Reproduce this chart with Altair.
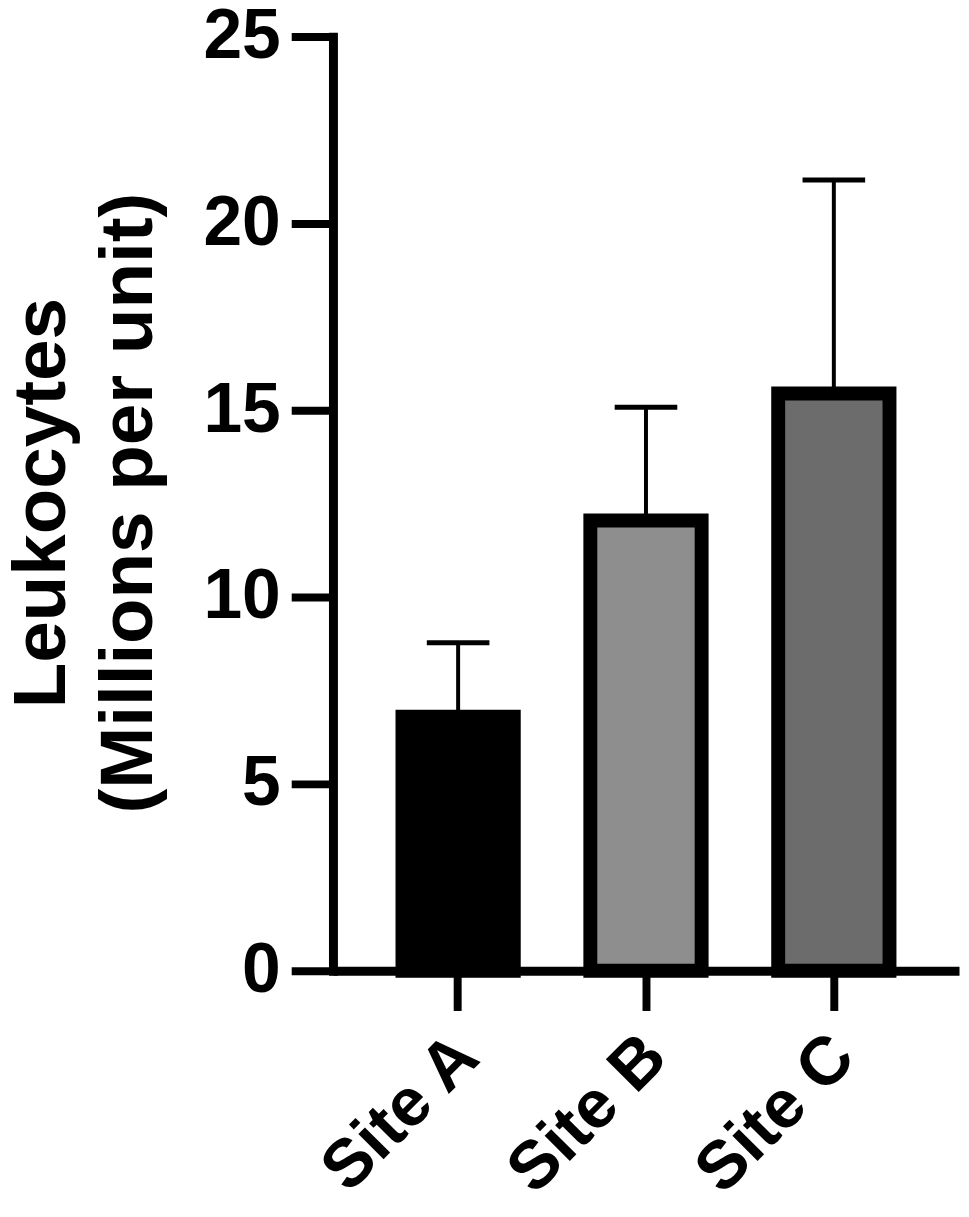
import altair as alt
import pandas as pd

sites = ["Site A", "Site B", "Site C"]
means = [6.8, 12.05, 15.45]
uppers = [8.78, 15.08, 21.16]
fills = ["#000000", "#8e8e8e", "#6c6c6c"]

df = pd.DataFrame({"site": sites, "mean": means, "upper": uppers})

FONT = "Liberation Sans"

x_enc = alt.X(
    "site:N",
    sort=sites,
    scale=alt.Scale(paddingInner=0.4074, paddingOuter=0.37),
    axis=alt.Axis(
        title=None,
        labelAngle=315,
        labelAlign="right",
        labelBaseline="middle",
        labelPadding=36,
        labelOffset=10,
        labelFontSize=68,
        labelLimit=0,
        tickSize=40,
        tickWidth=8,
        domainWidth=9,
        labelOverlap=False,
        labelFlush=False,
    ),
)

y_scale = alt.Scale(domain=[0, 25], nice=False)

bars = alt.Chart(df).mark_bar(size=112, stroke="#000000", strokeWidth=14).encode(
    x=x_enc,
    y=alt.Y(
        "mean:Q",
        scale=y_scale,
        axis=alt.Axis(
            values=[0, 5, 10, 15, 20, 25],
            title=["Leukocytes", "(Millions per unit)"],
            titleFontSize=75,
            titleAngle=270,
            titleAlign="center",
            titleBaseline="alphabetic",
            titleLineHeight=87,
            titleX=-270,
            titleY=469,
            titleLimit=0,
            labelFontSize=70,
            labelPadding=11,
            tickSize=42,
            tickWidth=8,
            domainWidth=9,
            domainCap="square",
        ),
    ),
    color=alt.Color("site:N", scale=alt.Scale(domain=sites, range=fills), legend=None),
)

err = alt.Chart(df).mark_rule(color="#000000", strokeWidth=4, opacity=1).encode(
    x=alt.X("site:N", sort=sites),
    y=alt.Y("mean:Q", scale=y_scale),
    y2="upper:Q",
)

caps = alt.Chart(df).mark_tick(color="#000000", size=63, thickness=5, opacity=1).encode(
    x=alt.X("site:N", sort=sites),
    y=alt.Y("upper:Q", scale=y_scale),
)

chart = (
    alt.layer(bars, err, caps)
    .properties(
        width=630,
        height=940,
        autosize=alt.AutoSizeParams(type="none"),
        padding={"left": 327, "top": 25, "right": 2, "bottom": 236},
    )
    .configure_view(stroke=None)
    .configure_axis(
        grid=False,
        domainColor="#000000",
        tickColor="#000000",
        labelColor="#000000",
        titleColor="#000000",
        labelFont=FONT,
        titleFont=FONT,
        labelFontWeight="bold",
        titleFontWeight="bold",
    )
)

chart.save("out.html", embed_options={"renderer": "svg", "actions": False})
